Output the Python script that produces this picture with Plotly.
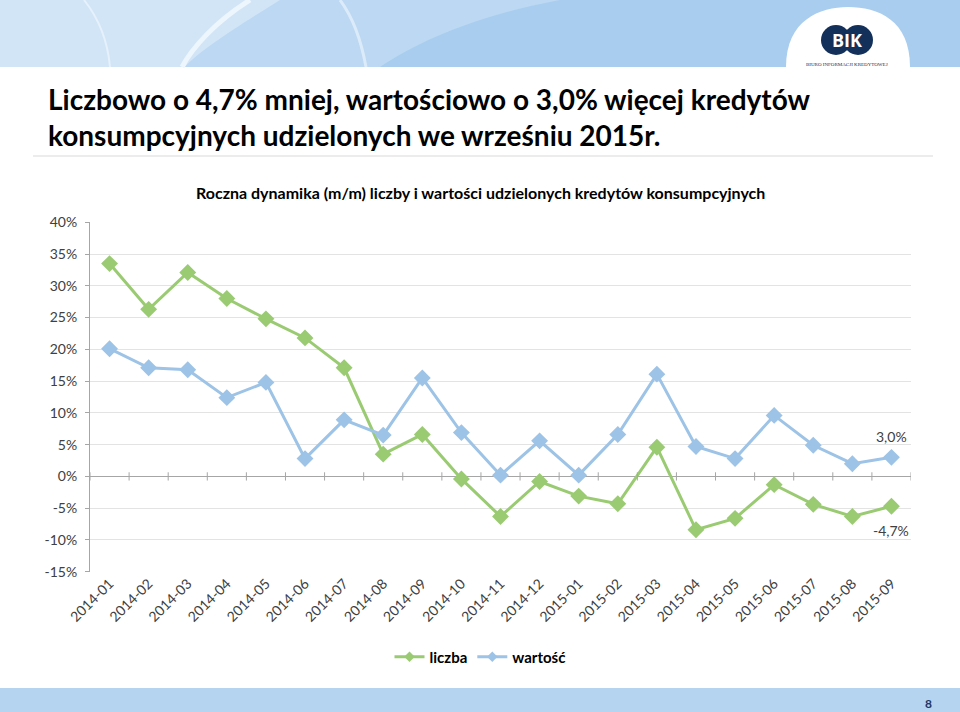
import plotly.graph_objects as go

months = ["2014-01", "2014-02", "2014-03", "2014-04", "2014-05", "2014-06", "2014-07",
          "2014-08", "2014-09", "2014-10", "2014-11", "2014-12", "2015-01", "2015-02",
          "2015-03", "2015-04", "2015-05", "2015-06", "2015-07", "2015-08", "2015-09"]
liczba = [33.5, 26.3, 32.1, 28.0, 24.8, 21.8, 17.1, 3.5, 6.6, -0.4, -6.3, -0.8, -3.1,
          -4.3, 4.6, -8.4, -6.6, -1.3, -4.4, -6.3, -4.7]
wartosc = [20.1, 17.1, 16.8, 12.4, 14.8, 2.8, 8.9, 6.5, 15.5, 6.9, 0.2, 5.6, 0.2,
           6.6, 16.1, 4.7, 2.8, 9.6, 4.9, 2.0, 3.0]
y_ticks = [-15, -10, -5, 0, 5, 10, 15, 20, 25, 30, 35, 40]

title_text = "Liczbowo o 4,7% mniej, wartościowo o 3,0% więcej kredytów<br>konsumpcyjnych udzielonych we wrześniu 2015r."
chart_title = "Roczna dynamika (m/m) liczby i wartości udzielonych kredytów konsumpcyjnych"

W, H = 960, 712
GREEN = "#9acb72"
BLUE = "#9dc3e6"
FONT = "Lato, Roboto, sans-serif"

fig = go.Figure()
for name, vals, col in (("liczba", liczba, GREEN), ("wartość", wartosc, BLUE)):
    fig.add_trace(go.Scatter(x=months, y=vals, name=name, mode="lines+markers",
                             line=dict(color=col, width=3), showlegend=False,
                             marker=dict(symbol="diamond", size=13, color=col)))
for name, col in (("liczba", GREEN), ("wartość", BLUE)):
    fig.add_trace(go.Scatter(x=[None], y=[None], name=name, mode="lines+markers",
                             line=dict(color=col, width=3), showlegend=True,
                             marker=dict(symbol="diamond", size=8, color=col)))

def px_x(p):
    return p / W

def px_y(p):
    return 1 - p / H

shapes = []
# header banner
shapes.append(dict(type="rect", xref="paper", yref="paper", x0=0, x1=1, y0=px_y(67), y1=1,
                   fillcolor="#bcd8f2", line=dict(width=0), layer="below"))
shapes.append(dict(type="path", xref="paper", yref="paper",
                   path=f"M 0 {px_y(0)} L {px_x(280)} {px_y(0)} C {px_x(240)} {px_y(25)} {px_x(200)} {px_y(50)} {px_x(185)} {px_y(67)} L 0 {px_y(67)} Z",
                   fillcolor="#d2e5f7", line=dict(width=0), layer="below"))
shapes.append(dict(type="path", xref="paper", yref="paper",
                   path=f"M {px_x(84)} {px_y(0)} C {px_x(100)} {px_y(20)} {px_x(108)} {px_y(45)} {px_x(110)} {px_y(67)}",
                   line=dict(color="#e6f1fb", width=2), layer="below"))
shapes.append(dict(type="path", xref="paper", yref="paper",
                   path=f"M {px_x(250)} {px_y(0)} C {px_x(215)} {px_y(22)} {px_x(192)} {px_y(48)} {px_x(182)} {px_y(67)}",
                   line=dict(color="#eef6fd", width=5), layer="below"))
shapes.append(dict(type="path", xref="paper", yref="paper",
                   path=f"M {px_x(560)} {px_y(0)} L {px_x(960)} {px_y(0)} L {px_x(960)} {px_y(67)} L {px_x(380)} {px_y(67)} C {px_x(420)} {px_y(40)} {px_x(480)} {px_y(15)} {px_x(560)} {px_y(0)} Z",
                   fillcolor="#a9cdef", line=dict(width=0), layer="below"))
shapes.append(dict(type="path", xref="paper", yref="paper",
                   path=f"M {px_x(340)} {px_y(0)} C {px_x(355)} {px_y(20)} {px_x(362)} {px_y(45)} {px_x(366)} {px_y(67)}",
                   line=dict(color="#dcebf9", width=3), layer="below"))
# logo white ellipse
shapes.append(dict(type="path", xref="paper", yref="paper",
                   path=f"M {px_x(786)} {px_y(67)} C {px_x(786)} {px_y(20)} {px_x(820)} {px_y(7)} {px_x(848)} {px_y(7)} C {px_x(878)} {px_y(7)} {px_x(910)} {px_y(20)} {px_x(910)} {px_y(67)} Z",
                   fillcolor="white", line=dict(width=0), layer="below"))
# BIK circles
for cx in (836, 858):
    shapes.append(dict(type="circle", xref="paper", yref="paper",
                       x0=px_x(cx - 15), x1=px_x(cx + 15), y0=px_y(55), y1=px_y(25),
                       fillcolor="#12305a", line=dict(width=0), layer="below"))
# separator line
shapes.append(dict(type="line", xref="paper", yref="paper", x0=px_x(33), x1=px_x(933),
                   y0=px_y(156), y1=px_y(156), line=dict(color="#ececec", width=2)))
# footer bar
shapes.append(dict(type="rect", xref="paper", yref="paper", x0=0, x1=1, y0=0, y1=px_y(688),
                   fillcolor="#b4d4f0", line=dict(width=0), layer="below"))
# tick marks across zero line at category boundaries
for i in range(len(months) + 1):
    shapes.append(dict(type="line", xref="x", yref="y", x0=i - 0.5, x1=i - 0.5,
                       y0=-0.65, y1=0.65, line=dict(color="#a6a6a6", width=1)))

annotations = [
    dict(text=f"<b>{title_text}</b>", xref="paper", yref="paper", x=px_x(46), y=px_y(80),
         xanchor="left", yanchor="top", align="left", showarrow=False,
         font=dict(family=FONT, size=28, color="#000000")),
    dict(text=f"<b>{chart_title}</b>", xref="paper", yref="paper", x=px_x(480), y=px_y(192),
         xanchor="center", yanchor="middle", showarrow=False,
         font=dict(family=FONT, size=16, color="#000000")),
    dict(text="<b>BIK</b>", xref="paper", yref="paper", x=px_x(847), y=px_y(40),
         xanchor="center", yanchor="middle", showarrow=False,
         font=dict(family="Open Sans", size=18, color="white")),
    dict(text="BIURO INFORMACJI KREDYTOWEJ", xref="paper", yref="paper", x=px_x(847), y=px_y(64),
         xanchor="center", yanchor="middle", showarrow=False,
         font=dict(family="Liberation Serif", size=5, color="#12305a")),
    dict(text="<b>8</b>", xref="paper", yref="paper", x=px_x(928), y=px_y(703),
         xanchor="center", yanchor="middle", showarrow=False,
         font=dict(family=FONT, size=12, color="#1f3864")),
    dict(text=f"{wartosc[-1]:.1f}%".replace(".", ","), x=months[-1], y=wartosc[-1],
         xref="x", yref="y", showarrow=False, yshift=21,
         font=dict(family=FONT, size=14, color="#404040")),
    dict(text=f"{liczba[-1]:.1f}%".replace(".", ","), x=months[-1], y=liczba[-1],
         xref="x", yref="y", showarrow=False, yshift=-24,
         font=dict(family=FONT, size=14, color="#404040")),
]

fig.update_layout(
    template="none",
    width=W, height=H,
    margin=dict(l=0, r=0, t=0, b=0, pad=0, autoexpand=False),
    paper_bgcolor="white", plot_bgcolor="white",
    shapes=shapes, annotations=annotations,
    showlegend=True,
    legend=dict(orientation="h", x=0.5, xanchor="center", y=px_y(657), yanchor="middle",
                font=dict(family=FONT, size=15, color="#000000", weight="bold"),
                bgcolor="rgba(0,0,0,0)"),
    xaxis=dict(domain=[px_x(90), px_x(911)], range=[-0.5, len(months) - 0.5],
               type="category", tickangle=-45, showgrid=False, showline=False,
               zeroline=False, ticks="", anchor="y", automargin=False,
               tickfont=dict(family=FONT, size=14, color="#404040")),
    yaxis=dict(domain=[px_y(571.7), px_y(222.3)], range=[-15, 40], automargin=False,
               tickvals=y_ticks, ticktext=[f"{v}%" for v in y_ticks],
               showgrid=True, gridcolor="#e3e3e3", gridwidth=1,
               zeroline=True, zerolinecolor="#a6a6a6", zerolinewidth=1,
               showline=True, linecolor="#a6a6a6", linewidth=1,
               ticks="outside", ticklen=4, tickcolor="#a6a6a6", ticklabelstandoff=5,
               tickfont=dict(family=FONT, size=14, color="#404040")),
)

fig.write_html("out.html", config={"displayModeBar": False},
               post_script="document.body.style.margin='0';document.body.style.overflow='hidden';")
